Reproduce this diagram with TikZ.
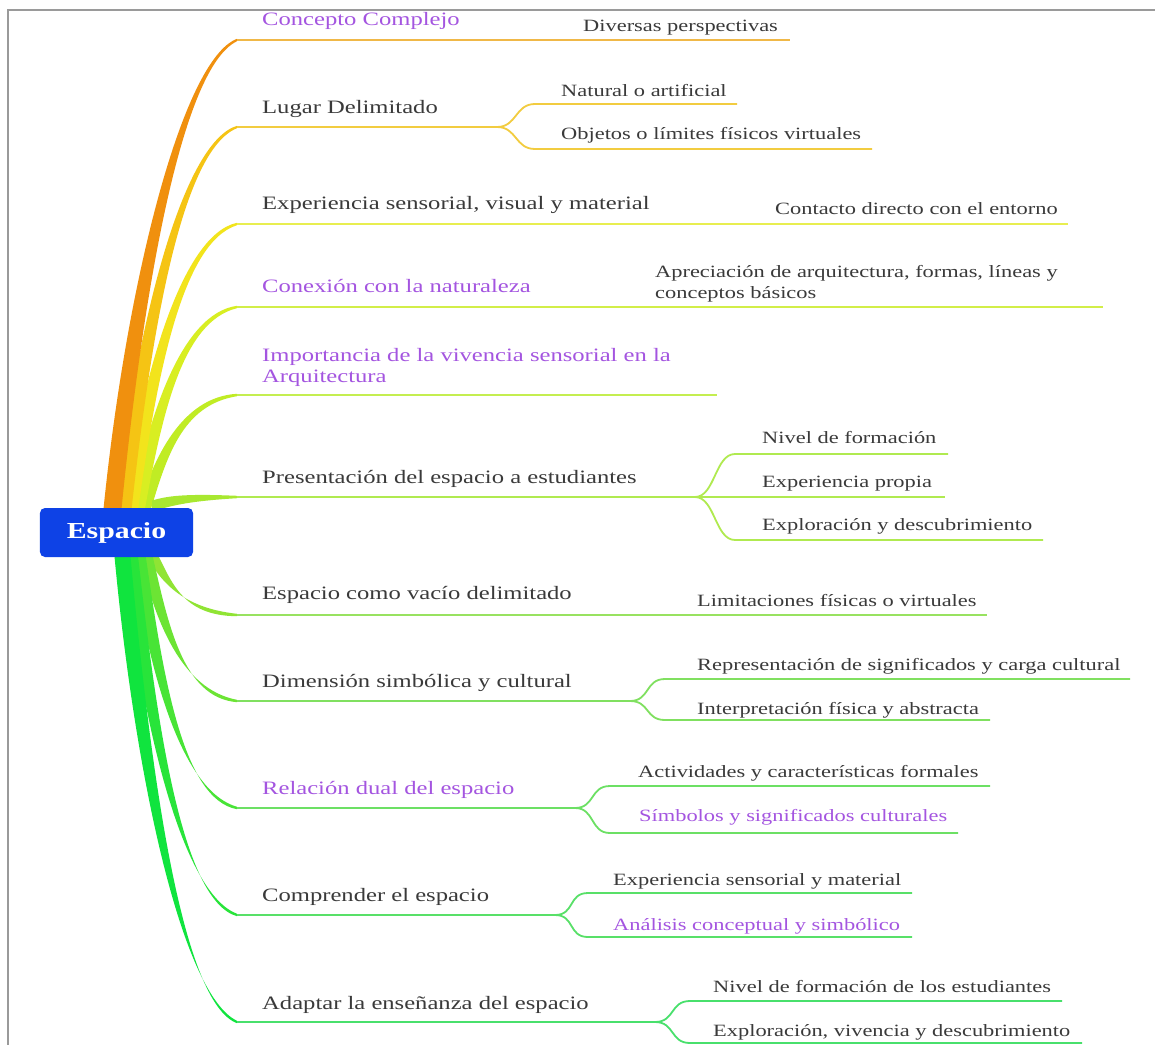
\documentclass[tikz,border=0pt]{standalone}
\usepackage{fontspec}
\setmainfont{Liberation Serif}[FakeStretch=1.3]
\usetikzlibrary{calc}
\definecolor{txtgray}{HTML}{3A3A3A}
\definecolor{purp}{HTML}{A455E0}
\definecolor{nodeblue}{HTML}{0E42E6}
\definecolor{frame}{HTML}{9A9A9A}
\definecolor{tA1}{HTML}{F0900E}\definecolor{lA1}{HTML}{F0B848}
\definecolor{tA2}{HTML}{F5C414}\definecolor{lA2}{HTML}{F2CC40}
\definecolor{tA3}{HTML}{F2E41C}\definecolor{lA3}{HTML}{E8EE50}
\definecolor{tA4}{HTML}{D8EE22}\definecolor{lA4}{HTML}{D2EE48}
\definecolor{tA5}{HTML}{C0EC24}\definecolor{lA5}{HTML}{C4EE50}
\definecolor{tA6}{HTML}{A8E830}\definecolor{lA6}{HTML}{B0EA50}
\definecolor{tA7}{HTML}{90E434}\definecolor{lA7}{HTML}{98E260}
\definecolor{tA8}{HTML}{6CE434}\definecolor{lA8}{HTML}{80E060}
\definecolor{tA9}{HTML}{48E436}\definecolor{lA9}{HTML}{6CE064}
\definecolor{tA10}{HTML}{28E43A}\definecolor{lA10}{HTML}{58E068}
\definecolor{tA11}{HTML}{10E43E}\definecolor{lA11}{HTML}{48E06C}
\tikzset{
  ln/.style={line width=1.8bp},
  lblM/.style={anchor=base west, inner sep=0pt, text=txtgray, font=\fontsize{19}{20.5}\selectfont, align=left},
  lblS/.style={anchor=base west, inner sep=0pt, text=txtgray, font=\fontsize{17.3}{20.5}\selectfont, align=left},
  pur/.style={text=purp},
  centerbox/.style={fill=nodeblue, rounded corners=5bp, minimum width=153bp, minimum height=49bp, inner sep=0pt, text=white, font=\bfseries\fontsize{23}{25}\selectfont}
}
% tapered trunk: style, base coordinate, target coordinate, half-width vector
\newcommand\trunk[4]{%
  \coordinate (tA) at ($(#2)-(#4)$);
  \coordinate (tB) at ($(#2)+(#4)$);
  \coordinate (tm1) at ($(#2)!0.18!(#3)$);
  \coordinate (tm2) at ($(#2)!0.48!(#3)$);
  \coordinate (tm3) at ($(#3)!0.05!(#2)$);
  \coordinate (tm4) at ($(#3)+(-55,0)$);
  \fill[#1] (tA) .. controls ($(tm1 |- tm2)-(#4)$) and ($(tm4 |- tm3)+(0,-4)$) .. ($(#3)+(0,-1.2)$)
     -- ($(#3)+(0,1.2)$) .. controls ($(tm4 |- tm3)+(0,4)$) and ($(tm1 |- tm2)+(#4)$) .. (tB) -- cycle;
}
% split child connector: colour, from, child start, child end
\newcommand\childline[4]{%
  \draw[ln,#1] (#2) .. controls +(20,0) and +(-20,0) .. (#3) -- (#4);
}
\begin{document}
\begin{tikzpicture}[x=1bp,y=-1bp]
\useasboundingbox (0,0) rectangle (1155,1045);
\fill[white] (0,0) rectangle (1155,1045);
\draw[frame, line width=2bp] (8,1045) -- (8,10) -- (1155,10);

% main branch start/end coordinates
\coordinate (s1) at (237,40);   \coordinate (e1) at (790,40);
\coordinate (s2) at (237,127);  \coordinate (e2) at (497,127);
\coordinate (s3) at (237,224);  \coordinate (e3) at (1068,224);
\coordinate (s4) at (237,307);  \coordinate (e4) at (1103,307);
\coordinate (s5) at (237,395);  \coordinate (e5) at (717,395);
\coordinate (s6) at (237,497);  \coordinate (e6) at (945,497); \coordinate (k6) at (695,497);
\coordinate (s7) at (237,615);  \coordinate (e7) at (987,615);
\coordinate (s8) at (237,701);  \coordinate (e8) at (630,701);
\coordinate (s9) at (237,808);  \coordinate (e9) at (575,808);
\coordinate (s10) at (237,915); \coordinate (e10) at (555,915);
\coordinate (s11) at (237,1022);\coordinate (e11) at (655,1022);

% trunk bases (behind the central node)
\coordinate (b1) at (112,514);
\coordinate (b2) at (123,514);
\coordinate (b3) at (130,514);
\coordinate (b4) at (137,514);
\coordinate (b5) at (143,514);
\coordinate (b6) at (152,506);
\coordinate (b7) at (150,551);
\coordinate (b8) at (145,551);
\coordinate (b9) at (138,551);
\coordinate (b10) at (130,551);
\coordinate (b11) at (122,551);

\trunk{tA5}{b5}{s5}{6.5,0}
\trunk{tA4}{b4}{s4}{7,0}
\trunk{tA3}{b3}{s3}{7.5,0}
\trunk{tA2}{b2}{s2}{8,0}
\trunk{tA1}{b1}{s1}{9,0}
\trunk{tA6}{b6}{s6}{0,5.5}
\trunk{tA7}{b7}{s7}{6,0}
\trunk{tA8}{b8}{s8}{6.5,0}
\trunk{tA9}{b9}{s9}{7,0}
\trunk{tA10}{b10}{s10}{7.5,0}
\trunk{tA11}{b11}{s11}{8,0}

\node[centerbox] (c) at (116.5,532.5) {Espacio};

% main underlines
\draw[ln,lA1] (s1) -- (e1);
\draw[ln,lA2] (s2) -- (e2);
\draw[ln,lA3] (s3) -- (e3);
\draw[ln,lA4] (s4) -- (e4);
\draw[ln,lA5] (s5) -- (e5);
\draw[ln,lA6] (s6) -- (e6);
\draw[ln,lA7] (s7) -- (e7);
\draw[ln,lA8] (s8) -- (e8);
\draw[ln,lA9] (s9) -- (e9);
\draw[ln,lA10] (s10) -- (e10);
\draw[ln,lA11] (s11) -- (e11);

% child lines
\coordinate (c2a) at (535,104); \coordinate (d2a) at (737,104);
\coordinate (c2b) at (535,149); \coordinate (d2b) at (872,149);
\childline{lA2}{e2}{c2a}{d2a}
\childline{lA2}{e2}{c2b}{d2b}
\coordinate (c6a) at (735,454); \coordinate (d6a) at (948,454);
\coordinate (c6c) at (735,540); \coordinate (d6c) at (1043,540);
\childline{lA6}{k6}{c6a}{d6a}
\childline{lA6}{k6}{c6c}{d6c}
\coordinate (c8a) at (665,679); \coordinate (d8a) at (1130,679);
\coordinate (c8b) at (665,720); \coordinate (d8b) at (990,720);
\childline{lA8}{e8}{c8a}{d8a}
\childline{lA8}{e8}{c8b}{d8b}
\coordinate (c9a) at (610,786); \coordinate (d9a) at (990,786);
\coordinate (c9b) at (610,833); \coordinate (d9b) at (958,833);
\childline{lA9}{e9}{c9a}{d9a}
\childline{lA9}{e9}{c9b}{d9b}
\coordinate (c10a) at (588,893); \coordinate (d10a) at (912,893);
\coordinate (c10b) at (588,937); \coordinate (d10b) at (912,937);
\childline{lA10}{e10}{c10a}{d10a}
\childline{lA10}{e10}{c10b}{d10b}
\coordinate (c11a) at (690,1001); \coordinate (d11a) at (1062,1001);
\coordinate (c11b) at (690,1043); \coordinate (d11b) at (1082,1043);
\childline{lA11}{e11}{c11a}{d11a}
\childline{lA11}{e11}{c11b}{d11b}

% main labels
\node[lblM,pur] (t1) at (262,25) {Concepto Complejo};
\node[lblM] (t2) at (262,113) {Lugar Delimitado};
\node[lblM] (t3) at (262,209) {Experiencia sensorial, visual y material};
\node[lblM,pur] (t4) at (262,292) {Conexión con la naturaleza};
\node[lblM,pur] (t5) at (262,382) {Importancia de la vivencia sensorial en la\\Arquitectura};
\node[lblM] (t6) at (262,483) {Presentación del espacio a estudiantes};
\node[lblM] (t7) at (262,599) {Espacio como vacío delimitado};
\node[lblM] (t8) at (262,687) {Dimensión simbólica y cultural};
\node[lblM,pur] (t9) at (262,794) {Relación dual del espacio};
\node[lblM] (t10) at (262,901) {Comprender el espacio};
\node[lblM] (t11) at (262,1009) {Adaptar la enseñanza del espacio};

% child labels
\node[lblS] (t1a) at (583,31) {Diversas perspectivas};
\node[lblS] (t2a) at (561,96) {Natural o artificial};
\node[lblS] (t2b) at (561,139) {Objetos o límites físicos virtuales};
\node[lblS] (t3a) at (775,214) {Contacto directo con el entorno};
\node[lblS] (t4a) at (655,298) {Apreciación de arquitectura, formas, líneas y\\conceptos básicos};
\node[lblS] (t6a) at (762,443) {Nivel de formación};
\node[lblS] (t6b) at (762,487) {Experiencia propia};
\node[lblS] (t6c) at (762,530) {Exploración y descubrimiento};
\node[lblS] (t7a) at (697,606) {Limitaciones físicas o virtuales};
\node[lblS] (t8a) at (697,670) {Representación de significados y carga cultural};
\node[lblS] (t8b) at (697,714) {Interpretación física y abstracta};
\node[lblS] (t9a) at (638,777) {Actividades y características formales};
\node[lblS,pur] (t9b) at (639,821) {Símbolos y significados culturales};
\node[lblS] (t10a) at (613,885) {Experiencia sensorial y material};
\node[lblS,pur] (t10b) at (613,930) {Análisis conceptual y simbólico};
\node[lblS] (t11a) at (713,992) {Nivel de formación de los estudiantes};
\node[lblS] (t11b) at (713,1036) {Exploración, vivencia y descubrimiento};
\end{tikzpicture}
\end{document}
